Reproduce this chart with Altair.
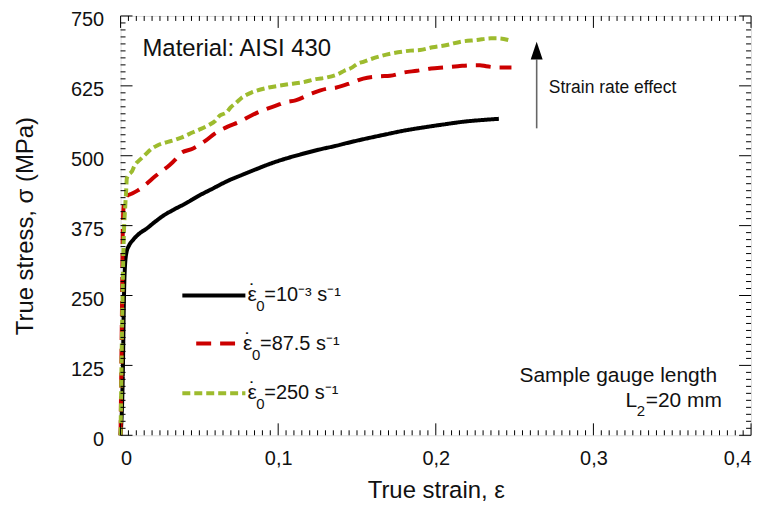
import altair as alt
import pandas as pd

# ---------------- data ----------------
series_keys = ["slow", "mid", "fast"]
series_colors = ["#000000", "#CC0000", "#9DBB2E"]
series_dashes = [[1, 0], [15, 9], [8, 4]]

strain_slow = [0.0, 0.0015, 0.002, 0.0025, 0.0036, 0.0055, 0.0078, 0.012, 0.0162, 0.0215,
               0.0267, 0.034, 0.0415, 0.05, 0.0583, 0.068, 0.0773, 0.087, 0.0962, 0.105,
               0.115, 0.126, 0.137, 0.147, 0.158, 0.168, 0.18, 0.193, 0.205, 0.218,
               0.23, 0.240]
stress_slow = [0, 120, 220, 284, 325, 340, 349, 361, 369, 381,
               392, 404, 415, 429, 441, 455, 466, 477, 487, 495,
               503, 511, 518, 525, 532, 538, 545, 551, 556, 561,
               564, 566]

strain_mid = [0.0, 0.001, 0.0015, 0.002, 0.003, 0.004, 0.007, 0.011, 0.014, 0.017,
              0.021, 0.025, 0.031, 0.035, 0.038, 0.046, 0.054, 0.060, 0.068, 0.075,
              0.083, 0.090, 0.099, 0.105, 0.111, 0.121, 0.131, 0.137, 0.147, 0.154,
              0.164, 0.171, 0.180, 0.188, 0.197, 0.206, 0.214, 0.223, 0.228, 0.232,
              0.240, 0.248]
stress_mid = [0, 250, 380, 410, 422, 428, 432, 438, 444, 451,
              461, 470, 483, 494, 504, 513, 527, 540, 552, 560,
              572, 581, 590, 596, 599, 611, 620, 622, 631, 638,
              642, 643, 649, 652, 656, 658, 660, 662, 662, 660,
              658, 658]

strain_fast = [0.0, 0.001, 0.002, 0.003, 0.0035, 0.004, 0.0055, 0.007, 0.009, 0.012,
               0.015, 0.020, 0.023, 0.029, 0.034, 0.039, 0.046, 0.051, 0.056, 0.060,
               0.063, 0.067, 0.070, 0.073, 0.077, 0.080, 0.083, 0.086, 0.094, 0.100,
               0.107, 0.115, 0.124, 0.131, 0.138, 0.142, 0.147, 0.150, 0.154, 0.159,
               0.166, 0.176, 0.184, 0.190, 0.198, 0.207, 0.216, 0.226, 0.235, 0.240,
               0.246]
stress_fast = [0, 200, 350, 411, 435, 460, 467, 471, 483, 492,
               500, 513, 518, 524, 528, 533, 542, 548, 555, 562,
               572, 577, 587, 594, 604, 609, 613, 616, 622, 625,
               628, 631, 637, 640, 646, 652, 658, 664, 668, 673,
               679, 685, 688, 689, 694, 698, 704, 707, 710, 710,
               707]

x_major = [0, 0.1, 0.2, 0.3, 0.4]
y_major = [0, 125, 250, 375, 500, 625, 750]

legend_rest = ["=10⁻³ s⁻¹", "=87.5 s⁻¹", "=250 s⁻¹"]
legend_x = [0.0392, 0.048, 0.0392]
legend_x2 = [0.0792, 0.0765, 0.0792]
legend_y = [250, 164, 75]

# ---------------- geometry ----------------
W, H = 633, 421
XMAX, YMAX = 0.4, 750
px_x = XMAX / W      # data units per pixel (x)
px_y = YMAX / H      # data units per pixel (y)
FONT = "Liberation Sans"
TXT = "#111111"

xs = alt.Scale(domain=[0, XMAX], nice=False, zero=False)
ys = alt.Scale(domain=[0, YMAX], nice=False, zero=False)

x_axis = alt.Axis(
    values=x_major, ticks=False, domain=False, grid=False,
    labelExpr="datum.value == 0 ? '0' : replace(format(datum.value, '.1f'), '.', ',')",
    labelFontSize=20, labelPadding=13, labelFont=FONT, labelColor=TXT,
    title="True strain, ε", titleFontSize=24, titleFont=FONT,
    titleFontWeight="normal", titlePadding=10, titleColor=TXT)
y_axis = alt.Axis(
    values=y_major, ticks=False, domain=False, grid=False,
    labelFontSize=20, labelPadding=17, labelOffset=4, labelFont=FONT, labelColor=TXT,
    title="True stress, σ (MPa)", titleFontSize=24, titleFont=FONT,
    titleFontWeight="normal", titlePadding=33, titleColor=TXT)


def X(f):
    return alt.X(f, scale=xs, axis=x_axis)


def Y(f):
    return alt.Y(f, scale=ys, axis=y_axis)


# ---------------- curves ----------------
frames = []
for k, sx, sy in zip(series_keys, [strain_slow, strain_mid, strain_fast],
                     [stress_slow, stress_mid, stress_fast]):
    frames.append(pd.DataFrame({"strain": sx, "stress": sy, "series": k,
                                "i": range(len(sx))}))
curves = pd.concat(frames, ignore_index=True)

color = alt.Color("series:N", scale=alt.Scale(domain=series_keys, range=series_colors), legend=None)
dash = alt.StrokeDash("series:N", scale=alt.Scale(domain=series_keys, range=series_dashes), legend=None)

lines = alt.Chart(curves).mark_line(strokeWidth=4, strokeCap="butt", interpolate="monotone").encode(
    x=X("strain:Q"), y=Y("stress:Q"),
    color=color, strokeDash=dash, order="i:Q", detail="series:N",
)

# ---------------- inward ticks on all four sides ----------------
rows = []
for i in range(81):
    v = round(i * 0.005, 4)
    L = (12 if i % 20 == 0 else 5) * px_y
    rows.append({"strain": v, "x2": v, "stress": 0, "y2": L})
    rows.append({"strain": v, "x2": v, "stress": YMAX, "y2": YMAX - L})
for i in range(61):
    v = i * 12.5
    L = (12 if i % 10 == 0 else 5) * px_x
    rows.append({"strain": 0, "x2": L, "stress": v, "y2": v})
    rows.append({"strain": XMAX, "x2": XMAX - L, "stress": v, "y2": v})
ticks = alt.Chart(pd.DataFrame(rows)).mark_rule(color="#000", strokeWidth=1).encode(
    x=X("strain:Q"), x2="x2:Q", y=Y("stress:Q"), y2="y2:Q",
)

# ---------------- in-plot legend ----------------
leg = pd.DataFrame({"series": series_keys, "strain": legend_x, "x2": legend_x2,
                    "stress": legend_y, "rest": legend_rest,
                    "eps": ["ε"] * 3, "dot": ["˙"] * 3, "sub": ["0"] * 3})
leg_lines = alt.Chart(leg).mark_rule(strokeWidth=4, strokeCap="butt").encode(
    x=X("strain:Q"), x2="x2:Q", y=Y("stress:Q"), color=color, strokeDash=dash,
)
leg_base = alt.Chart(leg).encode(x=alt.X("x2:Q", scale=xs, axis=x_axis), y=Y("stress:Q"))
leg_eps = leg_base.mark_text(align="left", baseline="middle", fontSize=21, font=FONT,
                             color=TXT, dx=2).encode(text="eps:N")
leg_dot = leg_base.mark_text(align="center", baseline="middle", fontSize=21, font=FONT,
                             color=TXT, dx=7, dy=-3).encode(text="dot:N")
leg_sub = leg_base.mark_text(align="left", baseline="middle", fontSize=15, font=FONT,
                             color=TXT, dx=11, dy=11).encode(text="sub:N")
leg_rest = leg_base.mark_text(align="left", baseline="middle", fontSize=20, font=FONT,
                              color=TXT, dx=19).encode(text="rest:N")

# ---------------- annotations ----------------
notes = pd.DataFrame({
    "strain": [0.0139, 0.2717, 0.3785],
    "stress": [690, 622, 106],
    "text": ["Material: AISI 430", "Strain rate effect", "Sample gauge length"],
    "size": [24, 17.5, 21],
    "align": ["left", "left", "right"],
})
note_left = alt.Chart(notes[notes["align"] == "left"]).mark_text(
    align="left", baseline="middle", font=FONT, color=TXT).encode(
    x=X("strain:Q"), y=Y("stress:Q"),
    text="text:N", size=alt.Size("size:Q", scale=None, legend=None))
note_right = alt.Chart(notes[notes["align"] == "right"]).mark_text(
    align="right", baseline="middle", font=FONT, color=TXT).encode(
    x=X("strain:Q"), y=Y("stress:Q"),
    text="text:N", size=alt.Size("size:Q", scale=None, legend=None))

gauge = pd.DataFrame({"strain": [0.3815], "stress": [61],
                      "L": ["L"], "n": ["2"], "rest": ["=20 mm"]})
g_base = alt.Chart(gauge).encode(x=X("strain:Q"), y=Y("stress:Q"))
g_rest = g_base.mark_text(align="right", baseline="middle", fontSize=21, font=FONT,
                          color=TXT).encode(text="rest:N")
g_sub = g_base.mark_text(align="right", baseline="middle", fontSize=15, font=FONT,
                         color=TXT, dx=-77, dy=10).encode(text="n:N")
g_L = g_base.mark_text(align="right", baseline="middle", fontSize=21, font=FONT,
                       color=TXT, dx=-85).encode(text="L:N")

arrow = pd.DataFrame({"strain": [0.264], "stress": [549], "y2": [672], "yh": [688]})
arrow_line = alt.Chart(arrow).mark_rule(color="#666", strokeWidth=1.6).encode(
    x=X("strain:Q"), y=Y("stress:Q"), y2="y2:Q")
arrow_head = alt.Chart(arrow).mark_point(
    shape="M0,-1.5L1,1.5L-1,1.5Z", filled=True, color="#000", size=144, opacity=1).encode(
    x=X("strain:Q"), y=alt.Y("yh:Q", scale=ys, axis=y_axis))

chart = alt.layer(lines, ticks, leg_lines, leg_eps, leg_dot, leg_sub, leg_rest,
                  note_left, note_right, g_rest, g_sub, g_L,
                  arrow_line, arrow_head).properties(
    width=W, height=H,
    autosize=alt.AutoSizeParams(type="none"),
    padding={"left": 113, "top": 7, "right": 10, "bottom": 68},
    background="white",
).configure_view(stroke="#000", strokeWidth=1.3).configure(font=FONT)

chart.save("out.html", embed_options={"renderer": "svg", "actions": False})
